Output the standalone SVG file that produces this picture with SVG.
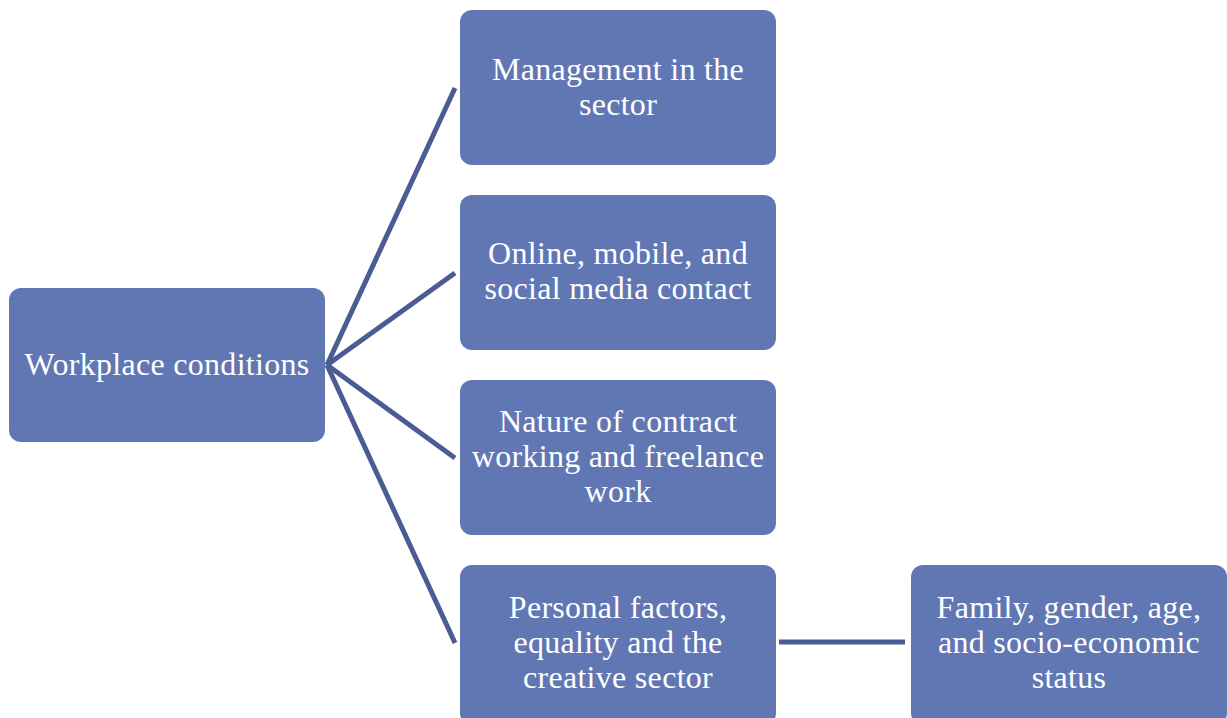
<svg xmlns="http://www.w3.org/2000/svg" width="1227" height="718" viewBox="0 0 1227 718">
  <style>
    .box { fill: #6177b4; }
    .lbl { fill: #ffffff; font-family: "Liberation Serif", "DejaVu Serif", serif; font-size: 32px; letter-spacing: 0.3px; text-anchor: middle; }
    .conn { stroke: #4a5c93; stroke-width: 5; fill: none; stroke-linecap: butt; }
  </style>
  <rect width="1227" height="718" fill="#ffffff"/>

  <!-- connectors -->
  <g id="connectors">
    <line class="conn" x1="327" y1="365" x2="455" y2="88"/>
    <line class="conn" x1="327" y1="365" x2="455" y2="273"/>
    <line class="conn" x1="327" y1="365" x2="455" y2="458"/>
    <line class="conn" x1="327" y1="365" x2="455" y2="643"/>
    <line class="conn" x1="779" y1="642" x2="905" y2="642"/>
  </g>

  <g id="workplace">
    <rect class="box" x="9" y="288" width="316" height="154" rx="12"/>
    <text class="lbl" x="167" y="375">Workplace conditions</text>
  </g>

  <g id="management">
    <rect class="box" x="460" y="10" width="316" height="155" rx="12"/>
    <text class="lbl" x="618" y="80">Management in the</text>
    <text class="lbl" x="618" y="115">sector</text>
  </g>

  <g id="online">
    <rect class="box" x="460" y="195" width="316" height="155" rx="12"/>
    <text class="lbl" x="618" y="264">Online, mobile, and</text>
    <text class="lbl" x="618" y="299">social media contact</text>
  </g>

  <g id="contract">
    <rect class="box" x="460" y="380" width="316" height="155" rx="12"/>
    <text class="lbl" x="618" y="432">Nature of contract</text>
    <text class="lbl" x="618" y="467">working and freelance</text>
    <text class="lbl" x="618" y="502">work</text>
  </g>

  <g id="personal">
    <rect class="box" x="460" y="565" width="316" height="160" rx="12"/>
    <text class="lbl" x="618" y="618">Personal factors,</text>
    <text class="lbl" x="618" y="653">equality and the</text>
    <text class="lbl" x="618" y="688">creative sector</text>
  </g>

  <g id="family">
    <rect class="box" x="911" y="565" width="316" height="160" rx="12"/>
    <text class="lbl" x="1069" y="618">Family, gender, age,</text>
    <text class="lbl" x="1069" y="653">and socio-economic</text>
    <text class="lbl" x="1069" y="688">status</text>
  </g>
</svg>
